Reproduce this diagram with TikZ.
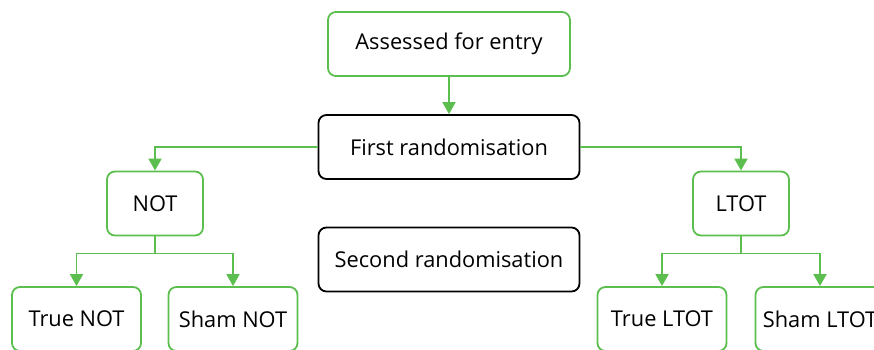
\documentclass[tikz,border=0pt]{standalone}
\usepackage{fontspec}
\setmainfont{Open Sans}
\usetikzlibrary{arrows.meta}
\definecolor{grn}{RGB}{93,190,80}
\tikzset{
  box/.style={draw=grn, line width=1.8pt, rounded corners=8pt, align=center, font=\fontsize{21.8}{26}\selectfont, inner sep=0pt},
  blk/.style={box, draw=black},
  link/.style={draw=grn, line width=1.8pt, -{Triangle[length=12pt,width=13pt]}},
}
\begin{document}
\begin{tikzpicture}[x=1pt,y=-1pt]
\useasboundingbox (0,0) rectangle (874,350);
\clip (0,0) rectangle (874,350);
\node[box, minimum width=242pt, minimum height=64pt] (assess) at (449,44) {Assessed for entry};
\node[blk, minimum width=261pt, minimum height=64pt] (first) at (449,147) {First randomisation};
\node[box, minimum width=96pt, minimum height=64pt] (not) at (155,203.5) {NOT};
\node[box, minimum width=96pt, minimum height=64pt] (ltot) at (741,203.5) {LTOT};
\node[blk, minimum width=261pt, minimum height=64pt] (second) at (449,259.5) {Second randomisation};
\node[box, minimum width=129pt, minimum height=64pt] (truenot) at (76.5,319) {True NOT};
\node[box, minimum width=129pt, minimum height=64pt] (shamnot) at (233,319) {Sham NOT};
\node[box, minimum width=129pt, minimum height=64pt] (trueltot) at (662,319) {True LTOT};
\node[box, minimum width=129pt, minimum height=64pt] (shamltot) at (820,319) {Sham LTOT};
\draw[link] (assess.south) -- (first.north);
\draw[link] (first.west) -| (not.north);
\draw[link] (first.east) -| (ltot.north);
\draw[link] (not.south) -- ++(0,17) -| (truenot.north);
\draw[link] (not.south) -- ++(0,17) -| (shamnot.north);
\draw[link] (ltot.south) -- ++(0,17) -| (trueltot.north);
\draw[link] (ltot.south) -- ++(0,17) -| (shamltot.north);
\end{tikzpicture}
\end{document}
